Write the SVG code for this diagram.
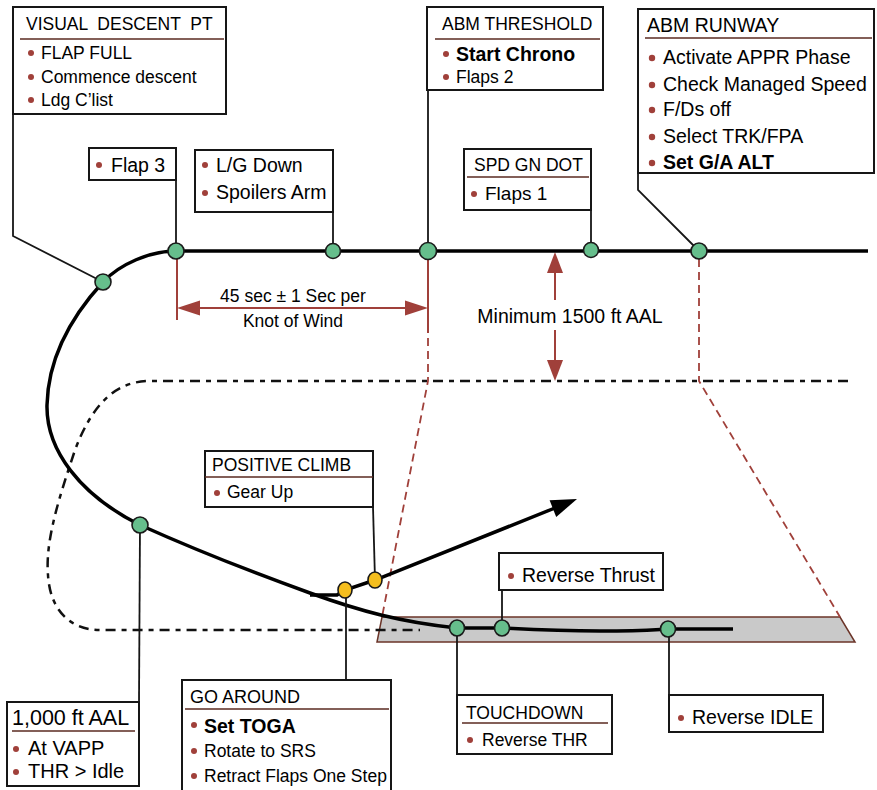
<svg xmlns="http://www.w3.org/2000/svg" width="877" height="790" viewBox="0 0 877 790">
<style>
.box{fill:#fff;stroke:#161616;stroke-width:2}
.sep{stroke:#5a2a20;stroke-width:1.5}
.t{font-family:"Liberation Sans",Arial,sans-serif;fill:#000;white-space:pre}
.s17{font-size:17.5px}
.s19{font-size:19.5px}
.s20{font-size:20px}
.s21{font-size:21.5px}
.bold{font-weight:bold}
.bul{fill:#A0403A}
.conn{stroke:#161616;stroke-width:1.8;fill:none}
.node{fill:#66BE8C;stroke:#1a1a1a;stroke-width:1.6}
.ynode{fill:#F5BE1E;stroke:#1a1a1a;stroke-width:1.6}
.track{stroke:#000;stroke-width:3.5;fill:none}
.brown{stroke:#A0403A;stroke-width:2;fill:none}
.bdash{stroke:#A0403A;stroke-width:1.8;fill:none;stroke-dasharray:8 5}
.kdash{stroke:#111;stroke-width:2.5;fill:none;stroke-dasharray:10 6 5 6}
</style>

<!-- runway -->
<polygon points="382,617 840,617 855,642 377,642" fill="#C9C9C9" stroke="#6b3428" stroke-width="1.5"/>

<!-- connectors / tracks -->
<g id="connectors">
  <path class="kdash" d="M 848 381 L 150 381 C 115 381 92 405 75 450 C 60 495 45 540 48 575 C 50 610 70 630 100 630 L 420 630"/>
  <line class="brown" x1="177" y1="251" x2="177" y2="320"/>
  <line class="brown" x1="428" y1="251" x2="428" y2="333"/>
  <path class="bdash" d="M 428 338 L 428 381 L 382 617"/>
  <path class="bdash" d="M 699 259 L 699 381 L 840 617"/>
  <line class="brown" x1="198" y1="308" x2="407" y2="308" stroke-width="2.5"/>
  <polygon class="bul" points="177,308 200,300.5 200,315.5"/>
  <polygon class="bul" points="428,308 405,300.5 405,315.5"/>
  <line class="brown" x1="555" y1="270" x2="555" y2="300" stroke-width="2.5"/>
  <line class="brown" x1="555" y1="330" x2="555" y2="362" stroke-width="2.5"/>
  <polygon class="bul" points="555,252 547,273 563,273"/>
  <polygon class="bul" points="555,381 547,360 563,360"/>
  <line class="track" x1="176" y1="251" x2="868" y2="251"/>
  <path class="track" d="M 176 251 C 150 251 120 264 103 282 C 70 318 48 360 47 405 C 46 450 80 495 140 525 C 200 552 260 575 310 593 C 360 611 400 622 457 628 L 502 628 C 540 630 560 631 600 631 C 640 631 650 630 668 629 L 733 629"/>
  <path class="track" stroke-width="3" d="M 310 595 L 337 595 L 345 590 L 375 580 L 555 508"/>
  <polygon points="577,499 556.2,517 549.6,500.2" fill="#000"/>
  <polyline class="conn" points="13,114 13,236 103,282"/>
  <line class="conn" x1="176" y1="180" x2="176" y2="251"/>
  <line class="conn" x1="333" y1="212" x2="333" y2="251"/>
  <line class="conn" x1="428" y1="90" x2="428" y2="251"/>
  <line class="conn" x1="591" y1="210" x2="591" y2="250"/>
  <polyline class="conn" points="638,173 638,190 699,251"/>
  <line class="conn" x1="373" y1="507" x2="375" y2="580"/>
  <line class="conn" x1="502" y1="590" x2="502" y2="628"/>
  <line class="conn" x1="140" y1="525" x2="139" y2="702"/>
  <line class="conn" x1="346" y1="590" x2="346" y2="680"/>
  <line class="conn" x1="457" y1="628" x2="457" y2="695"/>
  <line class="conn" x1="669" y1="629" x2="669" y2="695"/>
</g>

<g id="points">
  <circle class="node" cx="103" cy="282" r="8"/>
  <circle class="node" cx="176" cy="251" r="8"/>
  <circle class="node" cx="333" cy="251" r="7.5"/>
  <circle class="node" cx="428" cy="251" r="8.5"/>
  <circle class="node" cx="591" cy="250" r="7.5"/>
  <circle class="node" cx="699" cy="251" r="8"/>
  <circle class="node" cx="140" cy="525" r="8"/>
  <ellipse class="node" cx="457" cy="628" rx="7.5" ry="8"/>
  <ellipse class="node" cx="502" cy="628" rx="7.5" ry="8"/>
  <ellipse class="node" cx="668" cy="629" rx="7.5" ry="8"/>
  <ellipse class="ynode" cx="345" cy="590" rx="7" ry="8"/>
  <ellipse class="ynode" cx="375" cy="580" rx="7" ry="8"/>
</g>

<g id="dim-labels">
  <text class="t s17" x="293" y="302" text-anchor="middle">45 sec ± 1 Sec per</text>
  <text class="t s17" x="293" y="327" text-anchor="middle">Knot of Wind</text>
  <text class="t s19" x="570" y="323" text-anchor="middle">Minimum 1500 ft AAL</text>
</g>

<g id="visual-descent-pt">
  <rect class="box" x="13" y="7" width="213" height="107"/>
  <line class="sep" x1="20" y1="39" x2="224" y2="39"/>
  <text class="t s17" x="26" y="30">VISUAL  DESCENT  PT</text>
  <circle class="bul" cx="31" cy="53" r="3"/>
  <text class="t s17" x="41" y="59">FLAP FULL</text>
  <circle class="bul" cx="31" cy="77" r="3"/>
  <text class="t s17" x="41" y="83">Commence descent</text>
  <circle class="bul" cx="31" cy="100" r="3"/>
  <text class="t s17" x="41" y="106">Ldg C’list</text>
</g>

<g id="flap3">
  <rect class="box" x="89" y="148" width="87" height="32"/>
  <circle class="bul" cx="99" cy="165" r="3"/>
  <text class="t s19" x="111" y="172">Flap 3</text>
</g>

<g id="lg-down">
  <rect class="box" x="195" y="150" width="138" height="62"/>
  <circle class="bul" cx="205" cy="165" r="3"/>
  <text class="t s19" x="216" y="172">L/G Down</text>
  <circle class="bul" cx="205" cy="193" r="3"/>
  <text class="t s19" x="216" y="199">Spoilers Arm</text>
</g>

<g id="abm-threshold">
  <rect class="box" x="427" y="7" width="176" height="83"/>
  <line class="sep" x1="435" y1="39" x2="600" y2="39"/>
  <text class="t s17" x="442" y="30">ABM THRESHOLD</text>
  <circle class="bul" cx="446" cy="54" r="3"/>
  <text class="t s19 bold" x="456" y="61">Start Chrono</text>
  <circle class="bul" cx="446" cy="77" r="3"/>
  <text class="t s17" x="456" y="83">Flaps 2</text>
</g>

<g id="spd-gn-dot">
  <rect class="box" x="464" y="149" width="127" height="61"/>
  <line class="sep" x1="467" y1="177" x2="589" y2="177"/>
  <text class="t s17" x="474" y="171">SPD GN DOT</text>
  <circle class="bul" cx="474" cy="194" r="3"/>
  <text class="t" style="font-size:19px" x="485" y="200">Flaps 1</text>
</g>

<g id="abm-runway">
  <rect class="box" x="638" y="9" width="236" height="164"/>
  <line class="sep" x1="645" y1="38" x2="872" y2="38"/>
  <text class="t s19" x="647" y="32">ABM RUNWAY</text>
  <circle class="bul" cx="652" cy="58" r="3.2"/>
  <text class="t s19" x="663" y="64">Activate APPR Phase</text>
  <circle class="bul" cx="652" cy="85" r="3.2"/>
  <text class="t s19" x="663" y="91">Check Managed Speed</text>
  <circle class="bul" cx="652" cy="110" r="3.2"/>
  <text class="t s19" x="663" y="116">F/Ds off</text>
  <circle class="bul" cx="652" cy="137" r="3.2"/>
  <text class="t s19" x="663" y="143">Select TRK/FPA</text>
  <circle class="bul" cx="652" cy="163" r="3.2"/>
  <text class="t s19 bold" x="663" y="169">Set G/A ALT</text>
</g>

<g id="positive-climb">
  <rect class="box" x="205" y="451" width="168" height="56"/>
  <line class="sep" x1="205" y1="477" x2="373" y2="477"/>
  <text class="t s17" x="212" y="471">POSITIVE CLIMB</text>
  <circle class="bul" cx="217" cy="493" r="3"/>
  <text class="t s17" x="227" y="498">Gear Up</text>
</g>

<g id="reverse-thrust">
  <rect class="box" x="499" y="553" width="164" height="37"/>
  <circle class="bul" cx="511" cy="576" r="3"/>
  <text class="t s19" x="522" y="582">Reverse Thrust</text>
</g>

<g id="aal-1000">
  <rect class="box" x="7" y="702" width="132" height="84"/>
  <line class="sep" x1="12" y1="731" x2="135" y2="731"/>
  <text class="t s21" x="12" y="725">1,000 ft AAL</text>
  <circle class="bul" cx="16" cy="749" r="3"/>
  <text class="t s20" x="28" y="755">At VAPP</text>
  <circle class="bul" cx="16" cy="772" r="3"/>
  <text class="t s20" x="28" y="778">THR &gt; Idle</text>
</g>

<g id="go-around">
  <rect class="box" x="182" y="680" width="209" height="130"/>
  <line class="sep" x1="185" y1="709" x2="389" y2="709"/>
  <text class="t" style="font-size:18px" x="190" y="703">GO AROUND</text>
  <circle class="bul" cx="194" cy="725" r="3"/>
  <text class="t s19 bold" x="204" y="733">Set TOGA</text>
  <circle class="bul" cx="194" cy="751" r="3"/>
  <text class="t s17" x="204" y="757">Rotate to SRS</text>
  <circle class="bul" cx="194" cy="776" r="3"/>
  <text class="t s17" x="204" y="782">Retract Flaps One Step</text>
</g>

<g id="touchdown">
  <rect class="box" x="457" y="695" width="155" height="59"/>
  <line class="sep" x1="462" y1="723" x2="608" y2="723"/>
  <text class="t s17" x="466" y="719">TOUCHDOWN</text>
  <circle class="bul" cx="470" cy="740" r="3"/>
  <text class="t s17" x="482" y="746">Reverse THR</text>
</g>

<g id="reverse-idle">
  <rect class="box" x="669" y="695" width="154" height="37"/>
  <circle class="bul" cx="681" cy="718" r="3"/>
  <text class="t s19" x="692" y="724">Reverse IDLE</text>
</g>
</svg>
